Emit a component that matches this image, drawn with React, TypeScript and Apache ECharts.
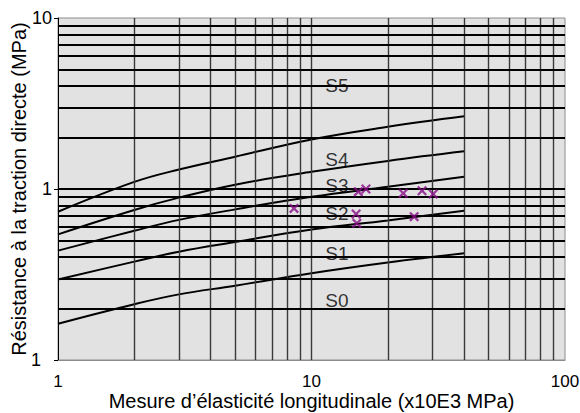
import React, { useEffect, useRef } from "react";
import * as echarts from "echarts";

const modulus = [1, 2, 3, 5, 10, 20, 40];
const curveS1 = [0.163, 0.212, 0.242, 0.272, 0.322, 0.372, 0.421];
const curveS2 = [0.296, 0.376, 0.43, 0.49, 0.58, 0.655, 0.747];
const curveS3 = [0.436, 0.57, 0.66, 0.76, 0.9, 1.03, 1.18];
const curveS4 = [0.543, 0.754, 0.89, 1.06, 1.26, 1.46, 1.66];
const curveS5 = [0.736, 1.1, 1.3, 1.545, 1.95, 2.31, 2.66];

const measX = [8.53, 15.0, 15.1, 15.3, 16.4, 23.0, 25.4, 27.3, 30.2];
const measY = [0.77, 0.714, 0.63, 0.964, 1.0, 0.944, 0.689, 0.977, 0.935];

const zoneNames = ["S0", "S1", "S2", "S3", "S4", "S5"];
const zoneLabelX = [12.6, 12.6, 12.6, 12.6, 12.6, 12.6];
const zoneLabelY = [0.222, 0.42, 0.72, 1.05, 1.48, 4.05];

const xGridValues = [2, 3, 4, 5, 6, 7, 8, 9, 10, 20, 30, 40, 50, 60, 70, 80, 90];
const yGridValues = [0.2, 0.3, 0.4, 0.5, 0.6, 0.7, 0.8, 0.9, 1, 2, 3, 4, 5, 6, 7, 8, 9];

const xTitle = "Mesure d\u2019élasticité longitudinale (x10E3 MPa)";
const yTitle = "Résistance à la traction directe (MPa)";

const FONT = "'Liberation Sans', Arial, sans-serif";

export default function App() {
  const ref = useRef<HTMLDivElement>(null);
  useEffect(() => {
    if (!ref.current) return;
    const chart = echarts.init(ref.current, null, { renderer: "svg" });
    const curves = [curveS1, curveS2, curveS3, curveS4, curveS5];
    const xMark = "path://M0,1.6 L1.6,0 L5,3.4 L8.4,0 L10,1.6 L6.6,5 L10,8.4 L8.4,10 L5,6.6 L1.6,10 L0,8.4 L3.4,5 Z";
    chart.setOption({
      animation: false,
      backgroundColor: "#ffffff",
      textStyle: { fontFamily: FONT },
      grid: {
        left: 58,
        top: 18,
        right: 15,
        bottom: 53,
        containLabel: false,
        outerBoundsMode: "none",
        show: true,
        backgroundColor: "#e2e2e2",
        borderColor: "#8c8c8c",
        borderWidth: 1,
      },
      xAxis: {
        type: "log",
        logBase: 10,
        min: 1,
        max: 100,
        name: xTitle,
        nameLocation: "middle",
        nameGap: 31,
        nameMoveOverlap: false,
        nameTextStyle: { fontSize: 20, color: "#000", fontFamily: FONT },
        axisLine: { show: true, lineStyle: { color: "#8c8c8c", width: 1 } },
        axisTick: { show: false },
        splitLine: { show: false },
        axisLabel: { fontSize: 17, color: "#000", margin: 13, fontFamily: FONT },
      },
      yAxis: {
        type: "log",
        logBase: 10,
        min: 0.1,
        max: 10,
        name: yTitle,
        nameLocation: "middle",
        nameGap: 29,
        nameMoveOverlap: false,
        nameTextStyle: { fontSize: 20, color: "#000", fontFamily: FONT },
        axisLine: { show: true, lineStyle: { color: "#000", width: 1 } },
        axisTick: { show: true, length: 4, lineStyle: { color: "#000" } },
        splitLine: { show: false },
        axisLabel: {
          fontSize: 18,
          color: "#000",
          margin: 6,
          fontFamily: FONT,
          formatter: (v: number) => (v >= 1 ? String(Math.round(v)) : "{s|1}"),
          rich: { s: { fontSize: 18, color: "#000", fontFamily: FONT, padding: [0, 11, 0, 0] } },
        },
      },
      series: [
        {
          type: "line",
          data: [],
          silent: true,
          markLine: {
            symbol: "none",
            silent: true,
            label: { show: false },
            lineStyle: { color: "#3a3a3a", width: 1.4, type: "solid" },
            data: xGridValues.map((v) => ({ xAxis: v })),
          },
        },
        {
          type: "line",
          data: [],
          silent: true,
          markLine: {
            symbol: "none",
            silent: true,
            label: { show: false },
            lineStyle: { color: "#000", width: 1.8, type: "solid" },
            data: yGridValues.map((v) => ({ yAxis: v })),
          },
        },
        ...curves.map((c) => ({
          type: "line",
          data: modulus.map((x, i) => [x, c[i]]),
          smooth: 0.4,
          symbol: "none",
          lineStyle: { color: "#000", width: 2 },
          silent: true,
        })),
        {
          type: "scatter",
          data: measX.map((x, i) => [x, measY[i]]),
          symbol: xMark,
          symbolSize: 10,
          itemStyle: { color: "#860c86" },
          z: 5,
        },
        {
          type: "scatter",
          data: zoneLabelX.map((x, i) => [x, zoneLabelY[i], zoneNames[i]]),
          symbolSize: 0,
          z: 6,
          label: {
            show: true,
            position: "inside",
            formatter: (p: any) => p.value[2],
            fontSize: 19,
            color: "#000",
            fontFamily: FONT,
          },
        },
      ],
    });
    return () => chart.dispose();
  }, []);
  return <div ref={ref} style={{ width: 580, height: 413, position: "absolute", left: 0, top: 0 }} />;
}
